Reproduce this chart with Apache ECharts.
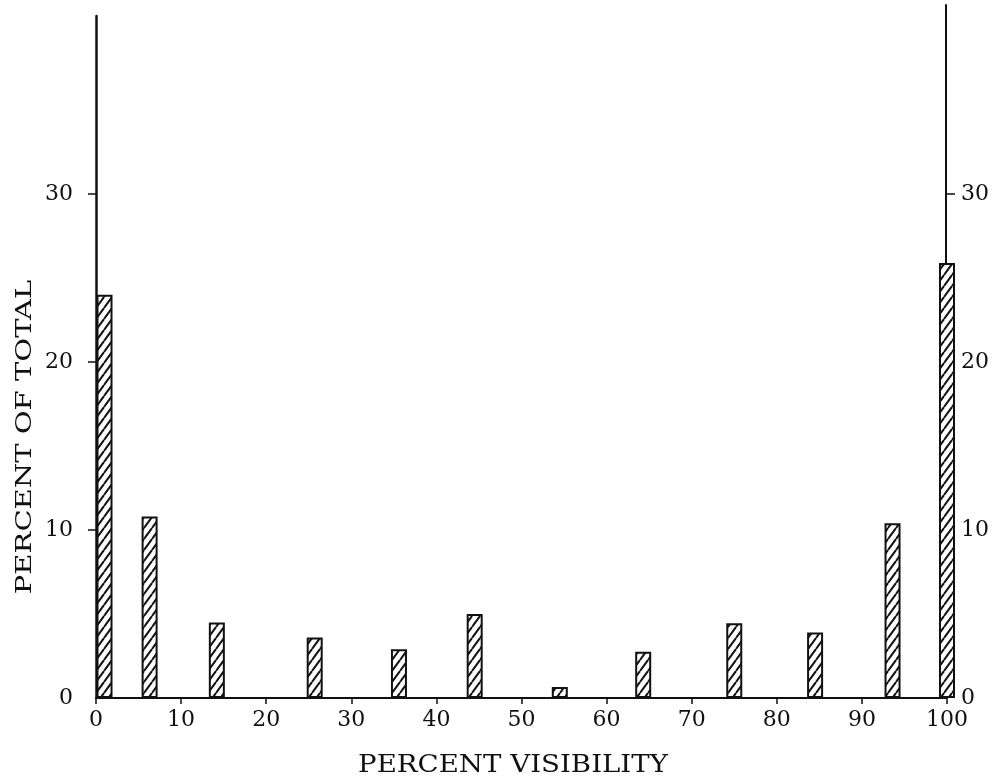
<!DOCTYPE html>
<html>
<head>
<meta charset="utf-8">
<script src="https://cdn.jsdelivr.net/npm/echarts@6/dist/echarts.min.js"></script>
<style>html,body{margin:0;padding:0;background:#fff;}#c{width:992px;height:780px;}</style>
</head>
<body>
<div id="c"></div>
<script>
// ---- data ----
var visibility = [1, 6.3, 14.2, 25.7, 35.6, 44.5, 54.5, 64.3, 75.0, 84.5, 93.6, 100];
var percentOfTotal = [24.0, 10.8, 4.5, 3.6, 2.9, 5.0, 0.65, 2.75, 4.45, 3.9, 10.4, 25.9];
var xTicks = [0, 10, 20, 30, 40, 50, 60, 70, 80, 90, 100];
var yLabels = [0, 10, 20, 30];
var yTicks = [10, 20, 30];
var xTitle = 'PERCENT VISIBILITY';
var yTitle = 'PERCENT OF TOTAL';

// hatch pattern
var tile = document.createElement('canvas');
tile.width = 8; tile.height = 11;
var ctx = tile.getContext('2d');
ctx.fillStyle = '#fff';
ctx.fillRect(0, 0, 8, 11);
ctx.strokeStyle = '#111';
ctx.lineWidth = 2;
for (var k = -1; k <= 1; k++) {
  ctx.beginPath();
  ctx.moveTo(k * 8, 11);
  ctx.lineTo(k * 8 + 8, 0);
  ctx.stroke();
}

var font = 'DejaVu Serif';
var chart = echarts.init(document.getElementById('c'));
chart.setOption({
  backgroundColor: '#fff',
  animation: false,
  grid: [
    {left: 96, right: 45, top: 16, bottom: 82},
    {left: 96, right: 45, top: 5, bottom: 82}
  ],
  xAxis: [{
    type: 'value', gridIndex: 0, min: 0, max: 100, interval: 10,
    axisLine: {show: true, lineStyle: {color: '#111', width: 2}},
    axisTick: {show: true, length: 6, lineStyle: {color: '#111', width: 1.5}, customValues: xTicks},
    axisLabel: {color: '#111', fontFamily: font, fontSize: 22, margin: 11, customValues: xTicks},
    splitLine: {show: false}
  }, {
    type: 'value', gridIndex: 1, min: 0, max: 100, show: false
  }],
  yAxis: [{
    type: 'value', gridIndex: 0, min: 0, max: 40.6, interval: 10, position: 'left',
    axisLine: {show: true, onZero: false, lineStyle: {color: '#111', width: 2.5}},
    axisTick: {show: true, length: 8, lineStyle: {color: '#111', width: 1.5}, customValues: yTicks},
    axisLabel: {color: '#111', fontFamily: font, fontSize: 22, margin: 23, customValues: yLabels},
    splitLine: {show: false}
  }, {
    type: 'value', gridIndex: 1, min: 0, max: 41.25, interval: 10, position: 'right',
    axisLine: {show: true, onZero: false, lineStyle: {color: '#111', width: 2}},
    axisTick: {show: true, length: 9, lineStyle: {color: '#111', width: 1.5}, customValues: yTicks},
    axisLabel: {color: '#111', fontFamily: font, fontSize: 22, margin: 15, customValues: yLabels},
    splitLine: {show: false}
  }],
  series: [{
    type: 'bar',
    xAxisIndex: 0, yAxisIndex: 0,
    barWidth: 16,
    data: visibility.map(function (x, i) { return [x, percentOfTotal[i]]; }),
    itemStyle: {
      color: {image: tile, repeat: 'repeat'},
      borderColor: '#111', borderWidth: 2
    }
  }],
  graphic: [{
    type: 'text', x: 513, y: 766, scaleX: 1.15,
    style: {text: xTitle, font: '24px "' + font + '"', fill: '#111', textAlign: 'center', textVerticalAlign: 'middle'}
  }, {
    type: 'text', x: 25, y: 437, rotation: Math.PI / 2, scaleX: 1.32,
    style: {text: yTitle, font: '22px "' + font + '"', fill: '#111', textAlign: 'center', textVerticalAlign: 'middle'}
  }]
});
</script>
</body>
</html>
